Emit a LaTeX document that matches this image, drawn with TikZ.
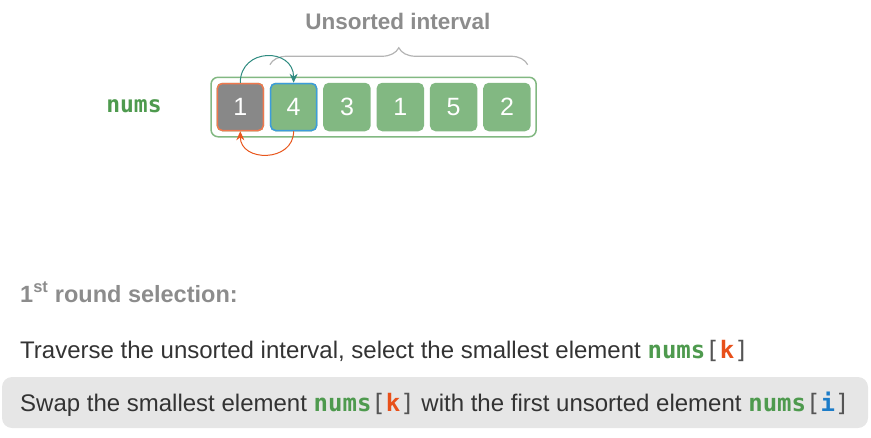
\documentclass[tikz,border=0pt]{standalone}
\usepackage{fontspec}
\setmainfont{Liberation Sans}
\newfontfamily\codefont{DejaVu Sans Mono}
\usepackage{xcolor}
\usetikzlibrary{arrows.meta,positioning,calc,fit,decorations.pathreplacing}
\definecolor{numgreen}{HTML}{4E9A4E}
\definecolor{cellgreen}{HTML}{82B882}
\definecolor{cellgray}{HTML}{888888}
\definecolor{edgeorange}{HTML}{F0784E}
\definecolor{edgeblue}{HTML}{3C9CDC}
\definecolor{swapteal}{HTML}{2E8B80}
\definecolor{swaporange}{HTML}{E8561C}
\definecolor{kred}{HTML}{E8501A}
\definecolor{iblue}{HTML}{1C7CC8}
\definecolor{muted}{HTML}{8C8C8C}
\definecolor{bracelight}{HTML}{B4B4B4}
\definecolor{ink}{HTML}{333333}
\definecolor{bracket}{HTML}{555555}
\definecolor{hlgray}{HTML}{E6E6E6}
\newcommand{\numsvar}{{\codefont\bfseries\color{numgreen}nums}}
\newcommand{\idxof}[2]{{\codefont\color{bracket}[{\bfseries\color{#1}#2}]}}
\tikzset{
  cell/.style={draw=cellgreen,fill=cellgreen,rounded corners=5pt,minimum width=46pt,minimum height=47pt,inner sep=0pt,text=white,font=\fontsize{25}{28}\selectfont,line width=1.5pt},
  frame/.style={draw=cellgreen,line width=1.5pt,rounded corners=7pt,inner sep=5.5pt},
  txt/.style={anchor=base west,text=ink,font=\fontsize{24}{28}\selectfont,inner sep=0pt},
  hlbox/.style={fill=hlgray,rounded corners=10pt,minimum width=866pt,minimum height=51pt,inner sep=0pt},
  swaparrow/.style={-{Stealth[length=9pt,width=8pt]},line width=1pt,color=#1},
}
\begin{document}
\begin{tikzpicture}[x=1pt,y=1pt]
  \useasboundingbox (0,0) rectangle (871,-437);
  % array cells
  \foreach \v [count=\n from 0] in {1,4,3,1,5,2}
    \node[cell] (c\n) at ({240.3+53.33*\n},-107) {\v};
  \node[cell,fill=cellgray,draw=edgeorange] at (c0) {1};
  \node[cell,draw=edgeblue] at (c1) {4};
  \node[frame,fit=(c0)(c5)] (arr) {};
  \node[font=\codefont\bfseries\fontsize{23}{26}\selectfont,text=numgreen] (nums) at (134,-106) {nums};
  % unsorted interval
  \coordinate (bl) at ($(c1.north west)+(0,18)$);
  \coordinate (br) at ($(c5.north east)+(-3,18)$);
  \draw[bracelight,line width=1.2pt,decorate,decoration={brace,amplitude=17pt}] (bl) -- (br);
  \node[font=\bfseries\fontsize{22.5}{26}\selectfont,text=muted] (title) at (398,-21) {Unsorted interval};
  % swap arrows
  \draw[swaparrow=swapteal] (c0.north) to[out=90,in=90,looseness=1.7] (c1.north);
  \draw[swaparrow=swaporange] (c1.south) to[out=-90,in=-90,looseness=1.5] (c0.south);
  % steps
  \node[txt,text=muted,font=\bfseries\fontsize{23.5}{26}\selectfont] (round) at (20,-302) {1\textsuperscript{st} round selection:};
  \node[txt] (trav) at (20,-358) {Traverse the unsorted interval, select the smallest element \numsvar\idxof{kred}{k}};
  \node[hlbox] (swapbg) at (435,-402.5) {};
  \node[txt] (swap) at (20,-411.5) {Swap the smallest element \numsvar\idxof{kred}{k} with the first unsorted element \numsvar\idxof{iblue}{i}};
\end{tikzpicture}
\end{document}
